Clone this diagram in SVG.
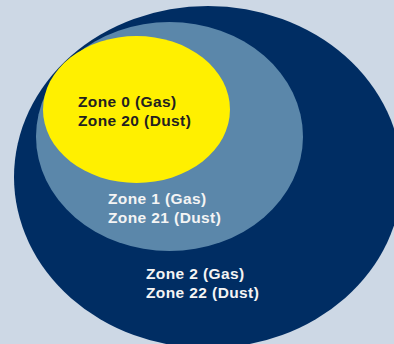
<svg xmlns="http://www.w3.org/2000/svg" width="394" height="344" viewBox="0 0 394 344">
<style>
.t{font-family:"Liberation Sans",Arial,sans-serif;font-weight:bold;font-size:15.5px;letter-spacing:0.4px}
.dk{fill:#231f20}
.wt{fill:#f4f4f4}
</style>
<rect width="394" height="344" fill="#cdd8e5"/>
<g id="zone2">
<ellipse cx="208" cy="177" rx="194" ry="171" fill="#002d63"/>
<text class="t wt" x="146" y="279">Zone 2 (Gas)</text>
<text class="t wt" x="146" y="298">Zone 22 (Dust)</text>
</g>
<g id="zone1">
<ellipse cx="169.5" cy="136.5" rx="133.5" ry="114.5" fill="#5b87aa"/>
<text class="t wt" x="108" y="204">Zone 1 (Gas)</text>
<text class="t wt" x="108" y="222.5">Zone 21 (Dust)</text>
</g>
<g id="zone0">
<ellipse cx="136.5" cy="109.5" rx="93.5" ry="73.5" fill="#fff000"/>
<text class="t dk" x="78" y="107">Zone 0 (Gas)</text>
<text class="t dk" x="78" y="125.5">Zone 20 (Dust)</text>
</g>
<g id="connectors"/>
</svg>
